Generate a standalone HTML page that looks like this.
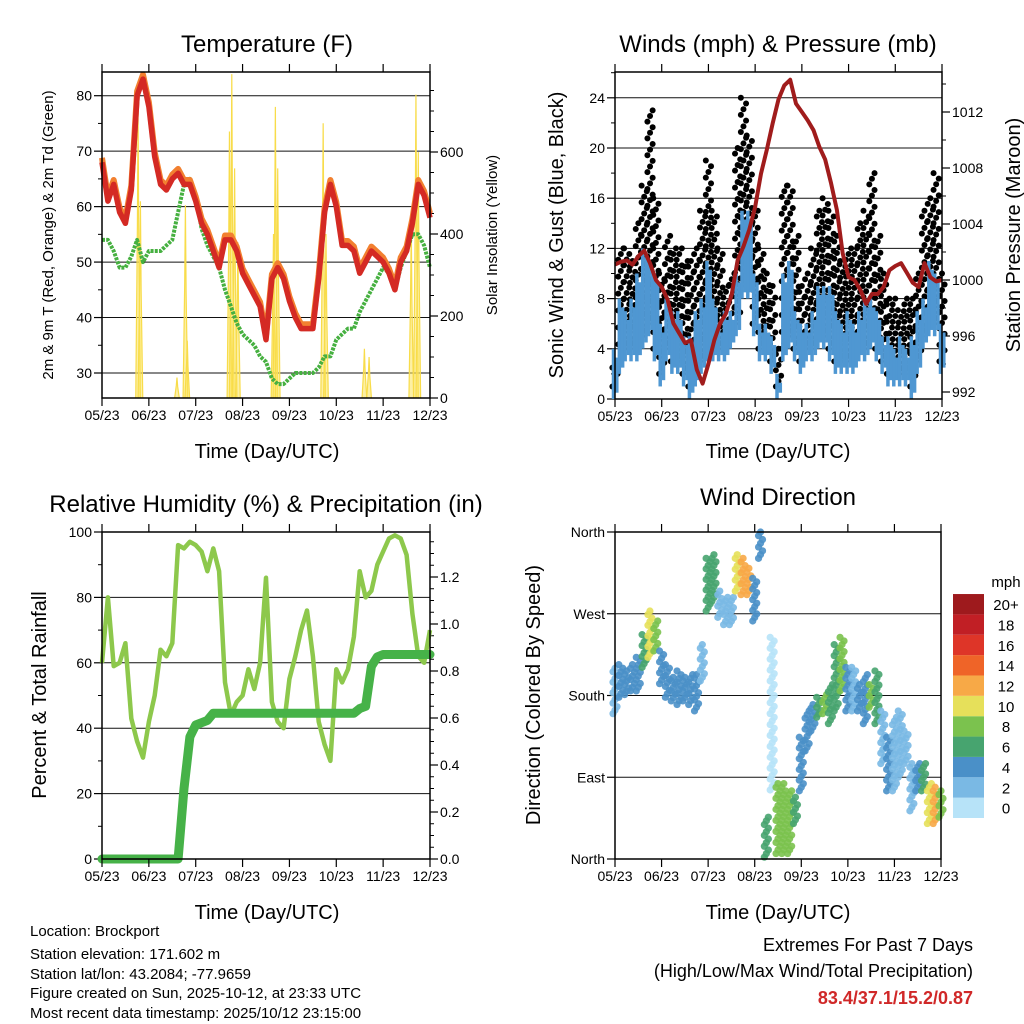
<!DOCTYPE html>
<html><head><meta charset="utf-8"><style>
html,body{margin:0;padding:0;background:#fff;}
svg{display:block;font-family:"Liberation Sans",sans-serif;}
</style></head><body>
<svg id="c" width="1024" height="1024" viewBox="0 0 1024 1024" xmlns="http://www.w3.org/2000/svg"></svg>
<script>
// ---- data (x in months from 05/23, step 0.125) ----
const monthLabels=["05/23","06/23","07/23","08/23","09/23","10/23","11/23","12/23"];
const tempRed=[68,61,64,59,57,63,80,83,78,69,64,63,65,66,64,64,61,57,55,52,49,54,54,52,48,46,44,42,36,47,49,47,43,40,38,38,38,47,59,64,60,53,53,52,48,50,52,51,50,48,45,50,52,57,64,62,58];
const dewGreen=[54,54,52,49,49,51,54,50,52,52,52,53,54,59,64,65,62,56,53,51,49,45,42,39,37,36,35,33,32,29,28,28,29,30,30,30,30,31,33,33,36,37,38,38,41,43,45,47,49,48,45,49,52,55,55,53,49];
const solarT=[0.77,0.82,1.6,1.78,1.82,2.72,2.77,2.83,2.9,3.66,3.7,3.75,4.72,4.78,5.6,5.7,6.6,6.7,6.75];
const solarV=[695,480,50,470,140,650,790,560,380,400,710,560,670,400,120,100,420,740,600];
const pressure=[1001.1,1001.3,1001.4,1001.1,1001.7,1002.1,1001.2,1000,999.5,998.6,996.9,996.2,995.5,995.7,993.6,992.6,994,995.7,996.9,997.6,999,1001.4,1002.4,1003.6,1005.2,1007.6,1009.3,1011.2,1012.9,1013.9,1014.3,1012.6,1012,1011.4,1010.7,1009.5,1008.6,1006.9,1005,1001.9,1000.2,1000,999.3,998.3,999,999,999.5,1000.7,1001,1001.2,1000.5,999.8,999.5,1001.2,1000.2,999.9,1000];
const windLo=[0,2,3,3,3,4,5,3,1,3,2,2,1,0,1,2,3,3,3,3,4,5,8,8,5,3,3,2,0,3,4,3,2,3,3,4,4,3,2,2,2,2,3,3,4,3,2,1,1,1,1,0,2,4,5,5,2];
const windHi=[4,8,7,8,10,12,11,10,6,8,7,7,5,5,7,8,11,8,6,7,7,10,15,15,10,6,6,5,2,10,11,7,6,6,7,9,9,9,7,6,7,6,7,8,8,7,5,5,4,5,4,5,7,8,11,10,6];
const gustHi=[3,12,12,11,14,17,23,16,10,13,12,12,11,11,12,15,19,15,12,9,10,20,24,21,15,12,10,9,4,17,17,13,9,10,12,15,16,15,13,11,12,12,14,15,18,13,10,8,8,7,8,8,10,15,16,18,10];
const rhValues=[60,80,59,60,66,43,36,31,42,50,64,62,66,96,95,97,96,94,88,95,88,54,44,48,50,58,52,60,86,48,42,40,55,62,70,76,62,42,35,30,58,54,58,68,88,80,82,90,94,98,99,98,93,75,62,60,70];
const rainTotal=[0,0,0,0,0,0,0,0,0,0,0,0,0,0,0.3,0.52,0.57,0.58,0.59,0.62,0.62,0.62,0.62,0.62,0.62,0.62,0.62,0.62,0.62,0.62,0.62,0.62,0.62,0.62,0.62,0.62,0.62,0.62,0.62,0.62,0.62,0.62,0.62,0.62,0.64,0.65,0.82,0.86,0.87,0.87,0.87,0.87,0.87,0.87,0.87,0.87,0.87];
const dirLo=[160,178,181,185,185,211,222,229,193,178,174,170,174,170,163,196,273,284,266,258,258,295,291,291,262,331,2,76,6,6,6,39,75,119,141,156,160,149,163,185,163,163,163,149,167,149,105,75,75,90,105,53,75,75,39,39,46];
const dirHi=[210,214,207,214,222,247,273,262,229,214,200,207,200,203,203,236,331,335,295,288,288,335,331,320,309,360,46,244,83,83,75,68,134,163,170,178,181,192,236,244,211,211,192,203,192,207,163,134,156,163,141,105,105,105,83,79,75];
const dirSpeed=[3,5,4,4,4,7,10,9,4,5,4,4,4,4,5,3,6,7,3,3,3,10,13,12,5,4,6,1,8,9,8,7,4,4,4,6,8,6,7,8,4,3,4,4,8,6,3,4,2,2,3,3,4,6,11,12,8];
const speedLabels=["0","2","4","6","8","10","12","14","16","18","20+"];
const speedColors=["#b7e3f8","#7ab9e4","#4a90c8","#47a46f","#7bc24e","#e6e05a","#f7a947","#ef6428","#de3528","#c11f25","#9e1a1d"];

const svg=document.getElementById('c');
const NS="http://www.w3.org/2000/svg";
function mk(tag,attrs,parent){const e=document.createElementNS(NS,tag);for(const k in attrs)e.setAttribute(k,attrs[k]);(parent||svg).appendChild(e);return e;}
function txt(s,x,y,size,anchor,extra,parent){const e=mk('text',Object.assign({x:x,y:y,'font-size':size,'text-anchor':anchor||'middle',fill:'#000'},extra||{}),parent);e.textContent=s;return e;}
function line(x1,y1,x2,y2,col,w,parent){return mk('line',{x1:x1,y1:y1,x2:x2,y2:y2,stroke:col,'stroke-width':w},parent);}

function panel(name,x0,x1,y0,y1){
  const g=mk('g',{});
  
  
  return {g,x0,x1,y0,y1,xs:m=>x0+m*(x1-x0)/7};
}
function frame(P){
  const r=mk('rect',{x:P.x0,y:P.y0,width:P.x1-P.x0,height:P.y1-P.y0,fill:'none',stroke:'#000','stroke-width':1.5},P.g);
  
  
  for(let i=0;i<8;i++){
    const x=P.xs(i);
    line(x,P.y1,x,P.y1+8,'#000',1.2,P.g);
    line(x,P.y0,x,P.y0-8,'#000',1.2,P.g);
    const t=txt(monthLabels[i],x,P.y1+22,14,'middle',{},P.g);
    
    
  }
}
function leftAxis(P,vals,labels,yf,minors){
  vals.forEach((v,i)=>{const y=yf(v);
    if(y>P.y0+1&&y<P.y1-1){const gl=line(P.x0,y,P.x1,y,'#111',1,P.g);}
    line(P.x0-8,y,P.x0,y,'#000',1.2,P.g);
    const t=txt(labels[i],P.x0-10,y+5,14,'end',{},P.g);
    
    
  });
  (minors||[]).forEach(v=>{const y=yf(v);line(P.x0-4,y,P.x0,y,'#000',1,P.g);});
}
function rightAxis(P,vals,labels,yf,minors){
  vals.forEach((v,i)=>{const y=yf(v);
    line(P.x1,y,P.x1+8,y,'#000',1.2,P.g);
    const t=txt(labels[i],P.x1+10,y+5,14,'start',{},P.g);
    
    
  });
  (minors||[]).forEach(v=>{const y=yf(v);line(P.x1,y,P.x1+4,y,'#000',1,P.g);});
}
function pathFrom(arr,xf,yf){return arr.map((v,i)=>(i?'L':'M')+xf(i).toFixed(1)+','+yf(v).toFixed(1)).join(' ');}
const stepM=i=>i*0.125;

// ===== Panel 1: Temperature =====
const P1=panel('temperature-panel',102,430,72,398);
const yT=t=>373-(t-30)*5.546, yS=s=>398-s*0.41;
leftAxis(P1,[30,40,50,60,70,80],["30","40","50","60","70","80"],yT,[35,45,55,65,75]);
rightAxis(P1,[0,200,400,600],["0","200","400","600"],yS,[50,100,150,250,300,350,450,500,550,650,700,750]);
solarT.forEach((t,i)=>{
  const x=P1.xs(t),w=P1.xs(0.05)-P1.xs(0);
  const p=mk('path',{d:`M${x-w},${yS(0)} L${x-w*0.3},${yS(solarV[i]*0.6)} L${x},${yS(solarV[i])} L${x+w*0.3},${yS(solarV[i]*0.55)} L${x+w},${yS(0)}`,fill:'rgba(252,228,90,0.55)',stroke:'#f8dc4a','stroke-width':1.2},P1.g);
  
  
});
const dewP=mk('path',{d:pathFrom(dewGreen,i=>P1.xs(stepM(i)),yT),fill:'none',stroke:'#46b040','stroke-width':4,'stroke-dasharray':'3 1.2','stroke-linejoin':'round'},P1.g);


const orP=mk('path',{d:pathFrom(tempRed,i=>P1.xs(stepM(i)),v=>yT(v+0.8)),fill:'none',stroke:'#f28030','stroke-width':6,'stroke-linejoin':'round'},P1.g);


const redP=mk('path',{d:pathFrom(tempRed,i=>P1.xs(stepM(i)),yT),fill:'none',stroke:'#d42a24','stroke-width':5.5,'stroke-linejoin':'round'},P1.g);


frame(P1);

// ===== Panel 2: Winds =====
const P2=panel('winds-panel',615,942,72,399);
const yW=w=>399-w*12.55, yP=p=>280-(p-1000)*14;
leftAxis(P2,[0,4,8,12,16,20,24],["0","4","8","12","16","20","24"],yW,[2,6,10,14,18,22,26]);
rightAxis(P2,[992,996,1000,1004,1008,1012],["992","996","1000","1004","1008","1012"],yP,[990,994,998,1002,1006,1010,1014]);
gustHi.forEach((g,i)=>{
  const x=P2.xs(stepM(i));
  const start=windLo[i]+1;
  const n=Math.max(1,Math.round((g-start)/0.45));
  for(let k=0;k<=n;k++){
    const w=start+(g-start)*k/n;
    const c=mk('circle',{cx:x+((k%3)-1)*2.6,cy:yW(w),r:3,fill:'#000'},P2.g);
    
    
  }
});
windHi.forEach((h,i)=>{
  const x=P2.xs(stepM(i));
  const l=mk('line',{x1:x-1.5,y1:yW(windLo[i]),x2:x-1.5,y2:yW(h),stroke:'#4f97d2','stroke-width':3.5},P2.g);
  
  
  const l2=mk('line',{x1:x+1.8,y1:yW(windLo[i]+0.5),x2:x+1.8,y2:yW(h-0.7),stroke:'#4f97d2','stroke-width':3.5},P2.g);
  
  
});
const prP=mk('path',{d:pathFrom(pressure,i=>P2.xs(stepM(i)),yP),fill:'none',stroke:'#a01c1c','stroke-width':4,'stroke-linejoin':'round'},P2.g);


frame(P2);

// ===== Panel 3: RH & precip =====
const P3=panel('humidity-precip-panel',102,430,532,859);
const yR=r=>859-r*3.27, yPr=p=>859-p*235;
leftAxis(P3,[0,20,40,60,80,100],["0","20","40","60","80","100"],yR,[10,30,50,70,90]);
rightAxis(P3,[0,0.2,0.4,0.6,0.8,1.0,1.2],["0.0","0.2","0.4","0.6","0.8","1.0","1.2"],yPr,[0.05,0.1,0.15,0.25,0.3,0.35,0.45,0.5,0.55,0.65,0.7,0.75,0.85,0.9,0.95,1.05,1.1,1.15,1.25,1.3,1.35]);
const rhP=mk('path',{d:pathFrom(rhValues,i=>P3.xs(stepM(i)),yR),fill:'none',stroke:'#8dc84c','stroke-width':4.5,'stroke-linejoin':'round'},P3.g);


const rnP=mk('path',{d:pathFrom(rainTotal,i=>P3.xs(stepM(i)),yPr),fill:'none',stroke:'#46b248','stroke-width':9,'stroke-linejoin':'round','stroke-linecap':'round'},P3.g);


frame(P3);

// ===== Panel 4: Wind direction =====
const P4=panel('wind-direction-panel',615,941,532,859);
const yD=d=>859-d/360*327;
leftAxis(P4,[0,90,180,270,360],["North","East","South","West","North"],yD,[]);
dirLo.forEach((lo,i)=>{
  const x=P4.xs(stepM(i));
  const col=speedColors[Math.min(10,Math.floor(dirSpeed[i]/2))];
  const n=Math.max(1,Math.round((dirHi[i]-lo)/4));
  for(let k=0;k<=n;k++){
    const d=lo+(dirHi[i]-lo)*k/n;
    const c=mk('circle',{cx:x+((k%3)-1)*2,cy:yD(d),r:3.6,fill:col,opacity:0.9},P4.g);
    
    
  }
});
frame(P4);
// colorbar
const cb=mk('g',{});


speedColors.forEach((c,i)=>{
  const y=818-(i+1)*20.36;
  const r=mk('rect',{x:953,y:y,width:31,height:20.36,fill:c},cb);
  
  
  const t=txt(speedLabels[i],1006,y+16,15,'middle',{},cb);
  
  
});
const mph=txt('mph',1006,587,15,'middle',{},cb);



// ===== Titles & axis labels =====
function label(s,x,y,size,name,rot,anchor){
  const t=txt(s,x,y,size,anchor||'middle',rot?{transform:`rotate(-90 ${x} ${y})`}:{});
  
  
}
label('Temperature (F)',267,52,24,'temperature-title');
label('Winds (mph) & Pressure (mb)',778,52,24,'winds-title');
label('Relative Humidity (%) & Precipitation (in)',266,512,24,'humidity-title');
label('Wind Direction',778,505,24,'direction-title');
label('Time (Day/UTC)',267,458,20,'x-axis-title-1');
label('Time (Day/UTC)',778,458,20,'x-axis-title-2');
label('Time (Day/UTC)',267,919,20,'x-axis-title-3');
label('Time (Day/UTC)',778,919,20,'x-axis-title-4');
label('2m & 9m T (Red, Orange) & 2m Td (Green)',53,235,15,'temp-y-title',true);
label('Solar Insolation (Yellow)',497,235,15,'solar-y-title',true);
label('Sonic Wind & Gust (Blue, Black)',563,235,20,'wind-y-title',true);
label('Station Pressure (Maroon)',1020,235,20,'pressure-y-title',true);
label('Percent & Total Rainfall',46,695,20,'rh-y-title',true);
label('Direction (Colored By Speed)',540,695,20,'direction-y-title',true);

const info=["Location: Brockport","Station elevation: 171.602 m","Station lat/lon: 43.2084; -77.9659","Figure created on Sun, 2025-10-12, at 23:33 UTC","Most recent data timestamp: 2025/10/12 23:15:00"];
const infoY=[936,959,979,998,1018];
info.forEach((s,i)=>label(s,30,infoY[i],15,'station-info-line',false,'start'));
label('Extremes For Past 7 Days',973,951,18,'extremes-heading',false,'end');
label('(High/Low/Max Wind/Total Precipitation)',973,977,18,'extremes-subheading',false,'end');
const ex=txt('83.4/37.1/15.2/0.87',973,1004,18,'end',{fill:'#d02828','font-weight':'bold'});


</script>
</body></html>
